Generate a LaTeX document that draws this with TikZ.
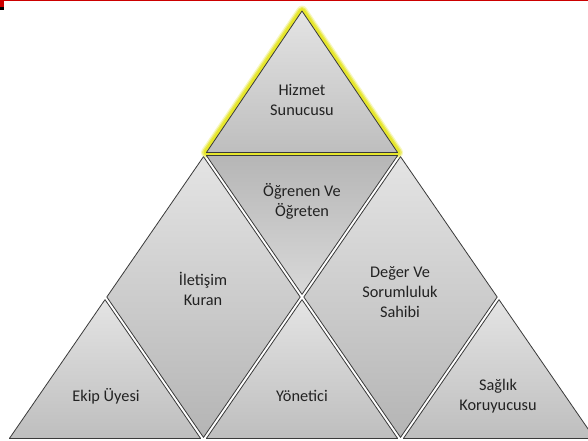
\documentclass[tikz,border=0pt]{standalone}
\usepackage{fontspec}
\setmainfont{Carlito}
\usetikzlibrary{calc}
\definecolor{outl}{HTML}{3A3A3A}
\definecolor{txt}{HTML}{222222}
\definecolor{glowc}{HTML}{E6E62C}
\definecolor{redbar}{HTML}{CC0000}
\definecolor{lt}{HTML}{E4E4E4}
\definecolor{dk}{HTML}{BEBEBE}
\definecolor{mdk}{HTML}{B6B6B6}
\begin{document}
\begin{tikzpicture}[x=1pt,y=-1pt,
  shp/.style={draw=outl,line width=0.8pt,line join=round},
  upfill/.style={top color=lt,bottom color=dk},
  downfill/.style={top color=mdk,bottom color=lt!95!black},
  rhfill/.style={top color=lt,bottom color=dk!95!black},
  lbl/.style={font=\fontsize{16.3}{20}\selectfont,text=txt,align=center,inner sep=0pt}]
\useasboundingbox (0,0) rectangle (588,440);
\fill[white] (0,0) rectangle (588,440);
\begin{scope}
\clip (0,0) rectangle (588,440);
% top red bar
\fill[redbar] (4,0) rectangle (588,1.4);
\fill[redbar] (0,0) rectangle (4,7.3);
\fill[black] (0,7.3) rectangle (4,10);
% Hizmet Sunucusu (glowing)
\draw[glowc!30,line width=11pt,line join=round] (302,11) -- (206.4,152.5) -- (397.6,152.5) -- cycle;
\draw[glowc!70,line width=8.5pt,line join=round] (302,11) -- (206.4,152.5) -- (397.6,152.5) -- cycle;
\draw[glowc,line width=6pt,line join=round] (302,11) -- (206.4,152.5) -- (397.6,152.5) -- cycle;
\path[shp,upfill] (302,11) -- (206.4,152.5) -- (397.6,152.5) -- cycle;
% Ogrenen ve Ogreten
\path[shp,downfill] (206.36,155.5) -- (397.64,155.5) -- (302,294.36) -- cycle;
% Iletisim Kuran
\path[shp,rhfill] (203.5,156.65) -- (106.82,297) -- (203.5,437.35) -- (300.18,297) -- cycle;
% Deger ve Sorumluluk Sahibi
\path[shp,rhfill] (400.5,156.65) -- (303.82,297) -- (400.5,437.35) -- (497.18,297) -- cycle;
% Ekip Uyesi
\path[shp,upfill] (105,299.64) -- (9.36,438.5) -- (200.64,438.5) -- cycle;
% Yonetici
\path[shp,upfill] (302,299.64) -- (206.36,438.5) -- (397.64,438.5) -- cycle;
% Saglik Koruyucusu
\path[shp,upfill] (499,299.64) -- (403.36,438.5) -- (594.64,438.5) -- cycle;
\end{scope}
% labels
\node[lbl] (hz) at (302,100) {Hizmet\\Sunucusu};
\node[lbl] (og) at (302,201) {Öğrenen Ve\\Öğreten};
\node[lbl] (ik) at (203,288.5) {İletişim\\Kuran};
\node[lbl] (dg) at (400,292) {Değer Ve\\Sorumluluk\\Sahibi};
\node[lbl] (ek) at (106,396) {Ekip Üyesi};
\node[lbl] (yn) at (302,396) {Yönetici};
\node[lbl] (sg) at (498,396) {Sağlık\\Koruyucusu};
\end{tikzpicture}
\end{document}
